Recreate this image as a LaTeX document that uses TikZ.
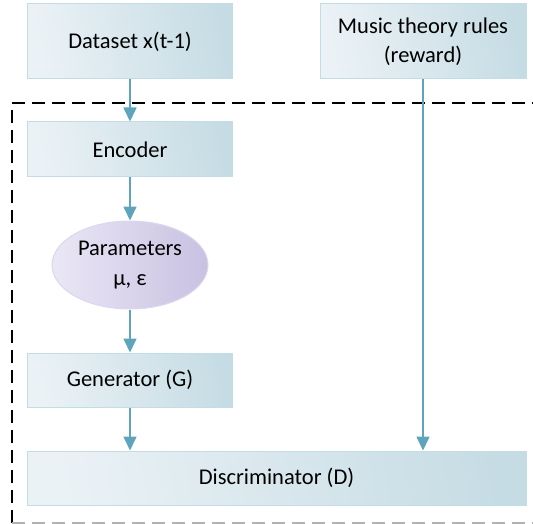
\documentclass[tikz,border=0pt]{standalone}
\usepackage{fontspec}
\setmainfont{Carlito}
\usetikzlibrary{arrows.meta,shapes.geometric}
\definecolor{boxL}{HTML}{EBF2F6}
\definecolor{boxR}{HTML}{C6DCE4}
\definecolor{boxB}{HTML}{C2DDE6}
\definecolor{ellL}{HTML}{EAE7F5}
\definecolor{ellR}{HTML}{C9C1E2}
\definecolor{ellB}{HTML}{DCD7EE}
\definecolor{arr}{HTML}{5EA4BD}
\tikzset{
  x=1pt,y=-1pt,
  blk/.style={draw=boxB,line width=1pt,left color=boxL,right color=boxR,shading angle=100,
    inner sep=0pt,font=\fontsize{22.5}{29}\selectfont,align=center},
  ell/.style={ellipse,draw=ellB,line width=1pt,left color=ellL,right color=ellR,
    inner sep=0pt,font=\fontsize{22.5}{30}\selectfont,align=center,minimum width=156pt,minimum height=88pt},
  con/.style={draw=arr,line width=1.7pt,-{Triangle[width=13pt,length=14pt]}},
}
\begin{document}
\begin{tikzpicture}
\useasboundingbox (0,0) rectangle (533,524);
\begin{scope}
\clip (0,0) rectangle (533,524);
\draw[line width=1.3pt,dash pattern=on 13pt off 7pt] (12,523) -- (12,103) -- (545,103);
\draw[line width=1.3pt,gray!60,dash pattern=on 13pt off 7pt] (12,523) -- (545,523);
\end{scope}
\node[blk,minimum width=205pt,minimum height=75pt] (ds) at (130,41.5) {Dataset x(t-1)};
\node[blk,minimum width=206pt,minimum height=75pt] (mt) at (423,41.5) {Music theory rules\\(reward)};
\node[blk,minimum width=205pt,minimum height=55pt] (enc) at (130,149.5) {Encoder};
\node[ell] (par) at (130,265) {Parameters\\μ, ε};
\node[blk,minimum width=205pt,minimum height=54pt] (gen) at (130,380) {Generator (G)};
\node[blk,minimum width=499pt,minimum height=54pt] (dis) at (276.5,478) {Discriminator (D)};
\draw[con] (ds) -- (enc);
\draw[con] (enc) -- (par);
\draw[con] (par) -- (gen);
\draw[con] (gen.south) -- (gen.south |- dis.north);
\draw[con] (mt.south) -- (mt.south |- dis.north);
\end{tikzpicture}
\end{document}
